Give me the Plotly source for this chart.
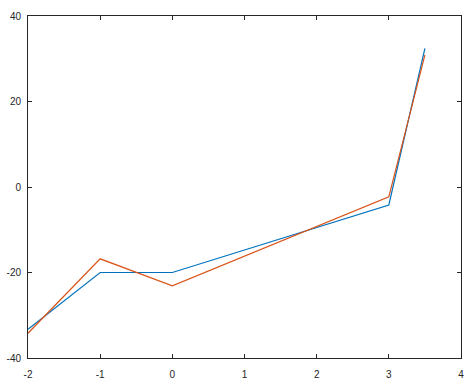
import plotly.graph_objects as go

x = [-2, -1, 0, 3, 3.5]
blue = [-33.3, -20.0, -20.0, -4.2, 32.4]
orange = [-34.2, -16.8, -23.1, -2.3, 30.9]

x_ticks = [-2, -1, 0, 1, 2, 3, 4]
y_ticks = [-40, -20, 0, 20, 40]

fig = go.Figure()
fig.add_trace(go.Scatter(x=x, y=blue, mode="lines", line=dict(color="#0072BD", width=1.2)))
fig.add_trace(go.Scatter(x=x, y=orange, mode="lines", line=dict(color="#D95319", width=1.2)))

axis_common = dict(
    showgrid=False, zeroline=False, showline=True, linecolor="#262626", linewidth=1,
    mirror="ticks", ticks="inside", ticklen=4, tickcolor="#262626", tickwidth=1,
    automargin=False,
    tickfont=dict(family="Liberation Sans, Arial, sans-serif", size=10, color="#262626"),
)
fig.update_xaxes(range=[-2, 4], tickvals=x_ticks, ticktext=[str(v) for v in x_ticks],
                 ticklabelstandoff=7, **axis_common)
fig.update_yaxes(range=[-40, 40], tickvals=y_ticks, ticktext=[str(v) for v in y_ticks],
                 ticklabelstandoff=4, **axis_common)

fig.update_layout(
    width=476, height=383, showlegend=False,
    margin=dict(l=28, r=15, t=16, b=25),
    plot_bgcolor="white", paper_bgcolor="white",
)
fig.write_html("out.html")
